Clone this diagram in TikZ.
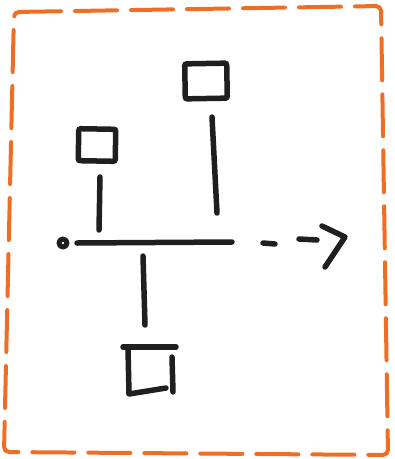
\documentclass[tikz,border=0pt]{standalone}
\usetikzlibrary{calc}
\definecolor{frameOrange}{RGB}{240,110,35}
\colorlet{inkColor}{black!88}
\tikzset{
  inkStroke/.style={
    inkColor,
    line width=5.5pt,
    line cap=round,
    line join=round
  },
  massBox/.style={
    draw=inkColor,
    line width=5.5pt,
    rounded corners=2pt,
    inner sep=0pt
  },
  frameStroke/.style={
    frameOrange,
    line width=4pt,
    line cap=round,
    dash pattern=on 42pt off 14pt,
    rounded corners=5pt
  }
}

\begin{document}
\begin{tikzpicture}[x=1pt, y=-1pt]
\useasboundingbox (0,0) rectangle (395,459);

% Dashed frame round everything
\draw[frameStroke] (14,12) -- (381,6) -- (388,455) -- (4,452) -- cycle;

% Pivot and main rod
\coordinate (pivot) at (63,243);
\coordinate (rodEnd) at (232,242);
\draw[inkStroke, line width=5pt] (pivot) circle (4);
\draw[inkStroke] ($(pivot)+(14,0)$) -- (rodEnd);

% Dashed continuation with open arrow head
\coordinate (tip) at (345,237);
\draw[inkStroke] (263,243) -- (275,244);
\draw[inkStroke] (299,239) -- (317,240);
\draw[inkStroke] (322,226) -- (tip) -- (325,267);

% Masses
\node[massBox, minimum width=37pt, minimum height=32pt, rotate=-1] (massA) at (97,145) {};
\node[massBox, minimum width=42pt, minimum height=35pt, rotate=1] (massB) at (206,81) {};
\coordinate (massC) at (151,369);

% Stems from the rod to the masses
\draw[inkStroke] (100,177) -- (99,230);
\draw[inkStroke] (212,117) -- (217,213);
\draw[inkStroke] (143,256) -- (145,325);

% Lower mass, drawn in open strokes
\draw[inkStroke] ($(massC)+(-28,-22)$) -- ($(massC)+(25,-22)$);
\draw[inkStroke] ($(massC)+(-23,-21)$) -- ($(massC)+(-22,25)$) -- ($(massC)+(15,19)$);
\draw[inkStroke] ($(massC)+(21,-12)$) -- ($(massC)+(22,23)$);

\end{tikzpicture}
\end{document}
